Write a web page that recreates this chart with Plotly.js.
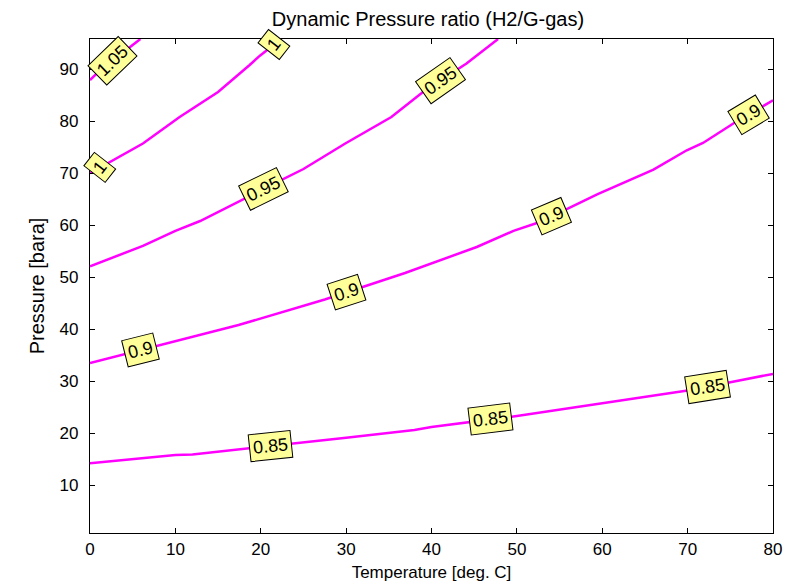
<!DOCTYPE html>
<html>
<head>
<meta charset="utf-8">
<script src="https://cdn.plot.ly/plotly-3.0.1.min.js"></script>
<style>html,body{margin:0;padding:0;background:#fff;}#chart{width:792px;height:583px;}</style>
</head>
<body>
<div id="chart"></div>
<script>
// Contour levels and their traced lines (Temperature [deg. C] vs Pressure [bara])
var levels = [0.85, 0.9, 0.95, 1, 1.05];
var levelText = ["0.85", "0.9", "0.95", "1", "1.05"];

var t085 = [0, 10, 12, 20, 30, 38, 40, 50, 60, 70, 75, 80];
var p085 = [14.2, 15.8, 15.9, 17.3, 19.1, 20.6, 21.2, 23.3, 25.7, 28.2, 29.8, 31.4];

var t090 = [0, 17.4, 27.5, 36.9, 45.3, 49.6, 52.7, 59.4, 66.0, 69.9, 71.8, 75.4, 80];
var p090 = [33.5, 40.8, 45.7, 50.8, 55.8, 58.9, 60.6, 65.9, 70.7, 74.4, 75.8, 79.6, 84.0];

var t095 = [0, 6.2, 10, 12.9, 20.5, 25, 29.9, 35.3, 39.0, 44.1, 47.8];
var p095 = [52.1, 56.0, 58.9, 60.8, 67.1, 70.8, 75.7, 80.8, 85.6, 91.1, 95.8];

var t100 = [0, 6.2, 10.5, 15.0, 18.7, 19.9, 22.4];
var p100 = [70.0, 75.7, 80.8, 85.6, 90.8, 92.6, 95.8];

var t105 = [0, 1.2, 5.9];
var p105 = [87.9, 89.8, 95.8];

// Where the contour labels sit along each line (temperature) and their tilt
var lab085 = [21.2, 46.9, 72.3];
var lab090 = [5.9, 30.1, 54.1, 77.1];
var lab095 = [20.3, 41.0];
var lab100 = [1.2, 21.6];
var lab105 = [2.6];
var ang085 = [-6, -7, -9];
var ang090 = [-14, -18, -23, -31];
var ang095 = [-26, -35];
var ang100 = [-52, -52];
var ang105 = [-44];

var xTicks = [0, 10, 20, 30, 40, 50, 60, 70, 80];
var yTicks = [10, 20, 30, 40, 50, 60, 70, 80, 90];
var xRange = [0, 80];
var yRange = [0.8, 95.8];

var lines = [
  {t: t085, p: p085, lab: lab085, ang: ang085},
  {t: t090, p: p090, lab: lab090, ang: ang090},
  {t: t095, p: p095, lab: lab095, ang: ang095},
  {t: t100, p: p100, lab: lab100, ang: ang100},
  {t: t105, p: p105, lab: lab105, ang: ang105}
];

function interp(xs, ys, x) {
  for (var i = 0; i < xs.length - 1; i++) {
    if (x >= xs[i] && x <= xs[i + 1]) {
      var f = (x - xs[i]) / (xs[i + 1] - xs[i]);
      return ys[i] + f * (ys[i + 1] - ys[i]);
    }
  }
  return ys[ys.length - 1];
}

var FONT = '"Liberation Sans", Arial, Helvetica, sans-serif';
var traces = [];
var annotations = [];
lines.forEach(function (L, k) {
  traces.push({
    x: L.t, y: L.p, type: 'scatter', mode: 'lines',
    line: {color: '#ff00ff', width: 2.5},
    name: levelText[k], showlegend: false, hoverinfo: 'skip'
  });
  L.lab.forEach(function (tx, j) {
    annotations.push({
      x: tx, y: interp(L.t, L.p, tx), xref: 'x', yref: 'y',
      text: levelText[k], showarrow: false, textangle: L.ang[j],
      bgcolor: '#ffff99', bordercolor: '#000', borderwidth: 1, borderpad: 3,
      font: {family: FONT, size: 18, color: '#000'}
    });
  });
});
// empty trace that carries the inside-tick frame axis
traces.push({x: [], y: [], type: 'scatter', mode: 'lines', yaxis: 'y2', showlegend: false, hoverinfo: 'skip'});

var layout = {
  width: 792, height: 583,
  margin: {l: 90, r: 19, t: 39, b: 50, pad: 0},
  paper_bgcolor: '#fff', plot_bgcolor: '#fff',
  font: {family: FONT, size: 17, color: '#000'},
  title: {
    text: 'Dynamic Pressure ratio (H2/G-gas)',
    font: {family: FONT, size: 20, color: '#000'},
    x: 428 / 792, xref: 'container', xanchor: 'center',
    y: 1 - 19 / 583, yref: 'container', yanchor: 'middle'
  },
  xaxis: {
    range: xRange, tickvals: xTicks, ticktext: xTicks.map(String),
    ticks: 'inside', ticklen: 5, tickcolor: '#000', tickwidth: 1,
    showline: true, linecolor: '#000', linewidth: 1.2, mirror: 'ticks',
    showgrid: false, zeroline: false,
    tickfont: {family: FONT, size: 17, color: '#000'},
    title: {text: 'Temperature [deg. C]', font: {family: FONT, size: 17, color: '#000'}, standoff: 8}
  },
  yaxis: {
    range: yRange, tickvals: yTicks, ticktext: yTicks.map(String),
    ticks: 'outside', ticklen: 7, tickcolor: 'rgba(0,0,0,0)', tickwidth: 1,
    showline: true, linecolor: '#000', linewidth: 1.2, mirror: true,
    showgrid: false, zeroline: false,
    tickfont: {family: FONT, size: 17, color: '#000'},
    title: {text: 'Pressure [bara]', font: {family: FONT, size: 20, color: '#000'}, standoff: 9}
  },
  yaxis2: {
    overlaying: 'y', side: 'left', anchor: 'x',
    range: yRange, tickvals: yTicks, showticklabels: false,
    ticks: 'inside', ticklen: 5, tickcolor: '#000', tickwidth: 1,
    showline: true, linecolor: '#000', linewidth: 1.2, mirror: 'ticks',
    showgrid: false, zeroline: false
  },
  annotations: annotations
};

Plotly.newPlot('chart', traces, layout, {displayModeBar: false, staticPlot: true});
</script>
</body>
</html>
